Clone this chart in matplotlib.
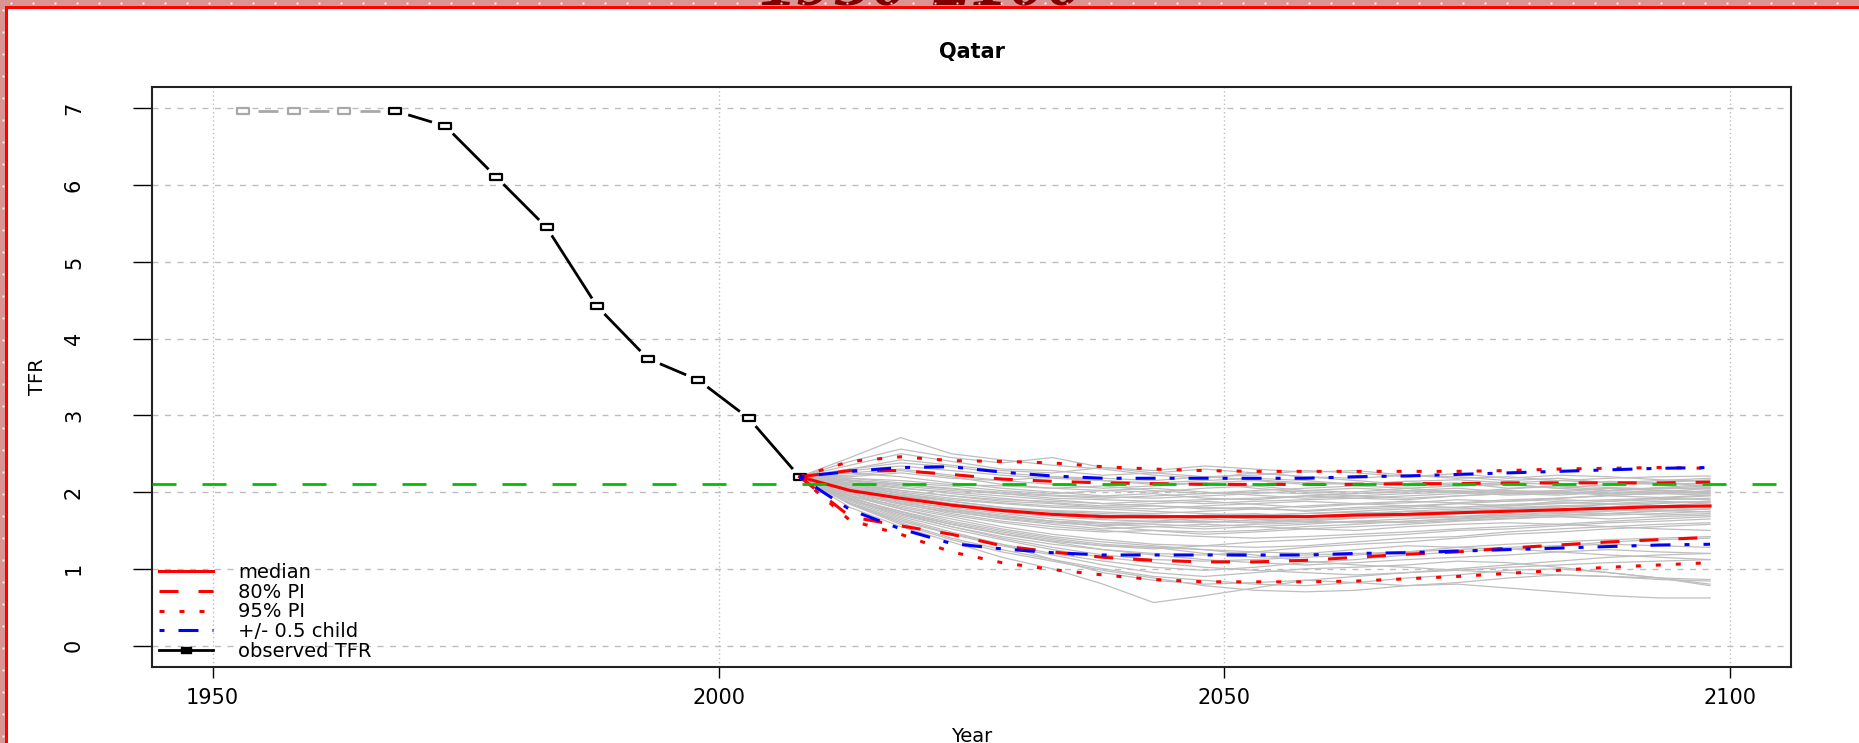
import numpy as np
import matplotlib.pyplot as plt
from matplotlib.lines import Line2D
from matplotlib.patches import Rectangle
from matplotlib.path import Path

plt.rcParams['font.family'] = ['DejaVu Sans']
plt.rcParams['lines.scale_dashes'] = False

# Observed TFR, 5-year period midpoints (first three are imputed -> gray)
obs_years = [1953, 1958, 1963, 1968, 1973, 1978, 1983, 1988, 1993, 1998, 2003, 2008]
obs_tfr = [6.97, 6.97, 6.97, 6.97, 6.77, 6.11, 5.45, 4.42, 3.74, 3.46, 2.96, 2.20]
n_gray = 3

# Projection years
proj_years = [2008, 2013, 2018, 2023, 2028, 2033, 2038, 2043, 2048, 2053,
              2058, 2063, 2068, 2073, 2078, 2083, 2088, 2093, 2098]

median = [2.20, 2.02, 1.92, 1.83, 1.76, 1.71, 1.68, 1.68, 1.68, 1.68,
          1.68, 1.70, 1.71, 1.73, 1.75, 1.77, 1.79, 1.81, 1.82]
pi80_up = [2.20, 2.28, 2.28, 2.23, 2.17, 2.14, 2.12, 2.11, 2.10, 2.10,
           2.10, 2.10, 2.11, 2.11, 2.12, 2.12, 2.12, 2.12, 2.13]
pi80_lo = [2.20, 1.68, 1.56, 1.45, 1.30, 1.22, 1.15, 1.11, 1.09, 1.09,
           1.11, 1.15, 1.19, 1.22, 1.27, 1.31, 1.35, 1.38, 1.41]
pi95_up = [2.20, 2.40, 2.46, 2.41, 2.40, 2.38, 2.33, 2.30, 2.28, 2.27,
           2.27, 2.27, 2.27, 2.27, 2.28, 2.30, 2.31, 2.32, 2.31]
pi95_lo = [2.20, 1.63, 1.45, 1.22, 1.08, 0.99, 0.92, 0.86, 0.83, 0.83,
           0.83, 0.84, 0.87, 0.90, 0.94, 0.98, 1.02, 1.05, 1.08]
half_up = [2.20, 2.27, 2.32, 2.33, 2.26, 2.21, 2.18, 2.18, 2.18, 2.18,
           2.18, 2.20, 2.21, 2.23, 2.25, 2.27, 2.29, 2.31, 2.32]
half_lo = [2.20, 1.77, 1.52, 1.33, 1.26, 1.21, 1.18, 1.18, 1.18, 1.18,
           1.18, 1.20, 1.21, 1.23, 1.25, 1.27, 1.29, 1.31, 1.32]
replacement = 2.1

# Sampled trajectories (gray)
trajectories = [
    [2.2, 2.45, 2.71, 2.50, 2.42, 2.35, 2.30, 2.22, 2.18, 2.25, 2.20, 2.15, 2.10, 2.12, 2.05, 2.08, 2.02, 2.00, 1.98],
    [2.2, 2.40, 2.56, 2.45, 2.38, 2.45, 2.32, 2.28, 2.34, 2.30, 2.26, 2.28, 2.22, 2.18, 2.20, 2.15, 2.18, 2.20, 2.21],
    [2.2, 2.30, 2.38, 2.33, 2.25, 2.20, 2.18, 2.15, 2.20, 2.16, 2.12, 2.10, 2.14, 2.08, 2.10, 2.05, 2.10, 2.12, 2.08],
    [2.2, 2.25, 2.20, 2.12, 2.05, 2.00, 1.95, 1.98, 1.92, 1.90, 1.95, 1.98, 2.00, 2.02, 1.98, 2.00, 2.05, 2.02, 2.00],
    [2.2, 2.10, 2.02, 1.95, 1.88, 1.85, 1.80, 1.82, 1.78, 1.80, 1.75, 1.78, 1.80, 1.85, 1.82, 1.88, 1.90, 1.92, 1.95],
    [2.2, 2.05, 1.95, 1.85, 1.78, 1.70, 1.68, 1.65, 1.70, 1.72, 1.68, 1.70, 1.75, 1.78, 1.80, 1.82, 1.80, 1.85, 1.88],
    [2.2, 1.95, 1.82, 1.70, 1.60, 1.52, 1.48, 1.50, 1.45, 1.48, 1.52, 1.55, 1.58, 1.62, 1.65, 1.68, 1.70, 1.72, 1.75],
    [2.2, 1.90, 1.70, 1.55, 1.42, 1.32, 1.25, 1.20, 1.18, 1.22, 1.28, 1.32, 1.35, 1.40, 1.45, 1.48, 1.52, 1.55, 1.58],
    [2.2, 1.85, 1.62, 1.45, 1.30, 1.18, 1.05, 0.95, 0.90, 0.95, 1.00, 1.02, 1.05, 1.10, 1.08, 1.02, 0.95, 0.88, 0.80],
    [2.2, 1.80, 1.55, 1.35, 1.15, 1.00, 0.80, 0.56, 0.65, 0.75, 0.85, 0.82, 0.78, 0.80, 0.75, 0.70, 0.65, 0.62, 0.62],
    [2.2, 1.88, 1.66, 1.48, 1.32, 1.12, 0.95, 0.85, 0.80, 0.82, 0.85, 0.90, 0.95, 0.98, 1.02, 1.05, 1.08, 1.10, 1.12],
    [2.2, 2.15, 2.10, 2.05, 1.98, 1.92, 1.90, 1.88, 1.85, 1.88, 1.90, 1.92, 1.90, 1.95, 1.98, 1.96, 2.00, 1.98, 2.02],
    [2.2, 2.12, 2.05, 2.00, 1.95, 1.90, 1.85, 1.82, 1.80, 1.78, 1.82, 1.85, 1.88, 1.86, 1.90, 1.92, 1.95, 1.93, 1.96],
    [2.2, 2.00, 1.88, 1.80, 1.72, 1.65, 1.60, 1.58, 1.55, 1.58, 1.60, 1.62, 1.65, 1.68, 1.70, 1.72, 1.75, 1.78, 1.80],
    [2.2, 2.08, 1.98, 1.90, 1.85, 1.80, 1.78, 1.75, 1.72, 1.70, 1.72, 1.75, 1.78, 1.80, 1.82, 1.85, 1.88, 1.90, 1.92],
    [2.2, 2.18, 2.15, 2.10, 2.08, 2.05, 2.02, 2.00, 2.05, 2.08, 2.02, 2.00, 2.05, 2.08, 2.10, 2.05, 2.02, 2.06, 2.10],
    [2.2, 1.98, 1.80, 1.68, 1.55, 1.45, 1.38, 1.32, 1.30, 1.28, 1.30, 1.35, 1.40, 1.42, 1.48, 1.52, 1.55, 1.58, 1.60],
    [2.2, 2.02, 1.90, 1.78, 1.68, 1.62, 1.55, 1.50, 1.48, 1.50, 1.55, 1.58, 1.62, 1.65, 1.68, 1.70, 1.72, 1.75, 1.78],
    [2.2, 1.92, 1.75, 1.60, 1.48, 1.38, 1.30, 1.28, 1.25, 1.22, 1.20, 1.25, 1.30, 1.28, 1.32, 1.35, 1.38, 1.40, 1.42],
    [2.2, 2.20, 2.25, 2.18, 2.15, 2.20, 2.15, 2.10, 2.12, 2.15, 2.10, 2.12, 2.08, 2.10, 2.12, 2.15, 2.12, 2.10, 2.12],
    [2.2, 1.85, 1.60, 1.40, 1.25, 1.12, 1.00, 0.90, 0.85, 0.80, 0.78, 0.82, 0.88, 0.92, 0.98, 1.00, 0.95, 0.88, 0.78],
    [2.2, 2.05, 1.92, 1.82, 1.75, 1.70, 1.65, 1.68, 1.65, 1.62, 1.65, 1.68, 1.70, 1.72, 1.75, 1.74, 1.76, 1.78, 1.82],
    [2.2, 2.10, 2.00, 1.92, 1.86, 1.82, 1.80, 1.78, 1.82, 1.85, 1.88, 1.85, 1.82, 1.85, 1.88, 1.90, 1.88, 1.92, 1.90],
    [2.2, 1.95, 1.78, 1.62, 1.50, 1.40, 1.32, 1.28, 1.20, 1.15, 1.18, 1.20, 1.22, 1.25, 1.28, 1.30, 1.32, 1.30, 1.28],
    [2.2, 2.25, 2.30, 2.22, 2.15, 2.10, 2.05, 2.08, 2.12, 2.05, 2.00, 1.98, 2.02, 2.05, 2.00, 1.98, 2.02, 2.05, 2.08],
    [2.2, 2.00, 1.85, 1.72, 1.62, 1.55, 1.50, 1.45, 1.42, 1.40, 1.42, 1.45, 1.48, 1.52, 1.55, 1.58, 1.62, 1.65, 1.68],
    [2.2, 2.08, 1.95, 1.85, 1.78, 1.75, 1.72, 1.70, 1.68, 1.65, 1.62, 1.60, 1.62, 1.65, 1.68, 1.70, 1.72, 1.70, 1.72],
    [2.2, 1.90, 1.68, 1.52, 1.38, 1.25, 1.15, 1.08, 1.02, 0.98, 0.95, 0.92, 0.95, 1.00, 1.05, 1.10, 1.15, 1.18, 1.20],
    [2.2, 2.15, 2.08, 2.02, 1.98, 1.95, 1.92, 1.95, 1.98, 2.00, 1.98, 1.95, 1.92, 1.95, 1.98, 2.00, 1.98, 2.00, 2.05],
    [2.2, 2.02, 1.88, 1.75, 1.65, 1.58, 1.52, 1.55, 1.58, 1.55, 1.52, 1.50, 1.55, 1.58, 1.60, 1.58, 1.55, 1.52, 1.50],
    [2.2, 2.30, 2.42, 2.35, 2.28, 2.25, 2.32, 2.25, 2.20, 2.22, 2.28, 2.25, 2.20, 2.24, 2.18, 2.22, 2.20, 2.16, 2.14],
    [2.2, 1.96, 1.78, 1.65, 1.52, 1.42, 1.35, 1.30, 1.25, 1.18, 1.10, 1.05, 1.02, 0.98, 0.95, 0.92, 0.90, 0.88, 0.86],
    [2.2, 2.12, 2.02, 1.95, 1.90, 1.88, 1.85, 1.88, 1.90, 1.92, 1.95, 1.92, 1.95, 1.98, 2.00, 2.02, 2.05, 2.02, 2.00],
    [2.2, 2.05, 1.90, 1.78, 1.70, 1.62, 1.58, 1.55, 1.52, 1.55, 1.58, 1.62, 1.60, 1.63, 1.66, 1.68, 1.65, 1.68, 1.70],
    [2.2, 1.94, 1.72, 1.55, 1.40, 1.28, 1.18, 1.12, 1.10, 1.12, 1.15, 1.18, 1.22, 1.28, 1.25, 1.30, 1.35, 1.38, 1.40],
    [2.2, 2.18, 2.12, 2.08, 2.02, 1.98, 2.02, 2.05, 2.00, 1.96, 1.92, 1.95, 1.98, 2.00, 2.02, 2.00, 1.96, 1.98, 2.00],
    [2.2, 2.35, 2.50, 2.40, 2.30, 2.28, 2.22, 2.25, 2.30, 2.25, 2.20, 2.18, 2.22, 2.20, 2.15, 2.18, 2.12, 2.15, 2.18],
    [2.2, 2.22, 2.28, 2.20, 2.10, 2.05, 2.08, 2.02, 1.98, 2.02, 2.05, 2.08, 2.05, 2.00, 2.04, 2.08, 2.06, 2.04, 2.06],
    [2.2, 2.06, 1.96, 1.88, 1.80, 1.76, 1.74, 1.72, 1.75, 1.78, 1.76, 1.80, 1.82, 1.80, 1.84, 1.86, 1.85, 1.88, 1.86],
    [2.2, 1.98, 1.84, 1.74, 1.66, 1.60, 1.56, 1.60, 1.62, 1.60, 1.64, 1.66, 1.70, 1.68, 1.72, 1.76, 1.78, 1.76, 1.74],
    [2.2, 1.90, 1.72, 1.58, 1.46, 1.36, 1.30, 1.26, 1.30, 1.35, 1.38, 1.42, 1.45, 1.50, 1.52, 1.56, 1.60, 1.62, 1.65],
    [2.2, 1.86, 1.64, 1.46, 1.32, 1.20, 1.10, 1.02, 0.98, 1.02, 1.08, 1.12, 1.18, 1.22, 1.26, 1.22, 1.18, 1.15, 1.12],
    [2.2, 2.14, 2.06, 1.98, 1.92, 1.86, 1.82, 1.85, 1.88, 1.84, 1.80, 1.84, 1.86, 1.90, 1.88, 1.92, 1.96, 1.98, 1.96],
    [2.2, 2.28, 2.34, 2.28, 2.22, 2.18, 2.15, 2.12, 2.15, 2.18, 2.15, 2.10, 2.14, 2.16, 2.12, 2.10, 2.14, 2.12, 2.16],
    [2.2, 1.92, 1.74, 1.58, 1.45, 1.35, 1.25, 1.18, 1.12, 1.08, 1.05, 1.08, 1.12, 1.15, 1.18, 1.22, 1.25, 1.22, 1.20],
    [2.2, 2.00, 1.86, 1.76, 1.68, 1.62, 1.60, 1.62, 1.66, 1.70, 1.72, 1.74, 1.72, 1.76, 1.78, 1.80, 1.84, 1.86, 1.88],
    [2.2, 2.10, 1.98, 1.88, 1.80, 1.74, 1.70, 1.66, 1.62, 1.60, 1.62, 1.66, 1.68, 1.66, 1.70, 1.74, 1.72, 1.76, 1.78],
    [2.2, 1.84, 1.58, 1.38, 1.22, 1.10, 0.98, 0.88, 0.78, 0.72, 0.70, 0.72, 0.78, 0.82, 0.88, 0.92, 0.90, 0.86, 0.84],
    [2.2, 2.16, 2.10, 2.04, 2.00, 1.96, 1.94, 1.92, 1.95, 1.98, 2.02, 2.05, 2.02, 2.00, 1.96, 1.98, 2.02, 2.05, 2.04],
    [2.2, 2.04, 1.92, 1.82, 1.74, 1.68, 1.64, 1.62, 1.60, 1.64, 1.68, 1.72, 1.75, 1.74, 1.78, 1.82, 1.84, 1.82, 1.86],
]

x_ticks = [1950, 2000, 2050, 2100]
y_ticks = [0, 1, 2, 3, 4, 5, 6, 7]

W, H = 1859, 743
PX = 0.72  # points per pixel at dpi 100

fig = plt.figure(figsize=(W / 100, H / 100), dpi=100)
ax = fig.add_axes([152 / W, 1 - 667 / H, (1791 - 152) / W, (667 - 87) / H])
ax.set_xlim(1944, 2106)
ax.set_ylim(-0.28, 7.28)

# grid (R grid(): dotted, stretched horizontally in the picture)
for xt in x_ticks:
    ax.axvline(xt, color='#BDBDBD', lw=1.0, dashes=(1.0, 2.0), zorder=1)
for yt in y_ticks:
    ax.axhline(yt, color='#BDBDBD', lw=1.0, dashes=(4.3, 4.7), zorder=1)

for traj in trajectories:
    ax.plot(proj_years, traj, color='#BEBEBE', lw=0.9, zorder=2)

# observed, type "b" (line segments with gaps around the points)
sq = Path([(-1, -0.6), (1, -0.6), (1, 0.6), (-1, 0.6), (-1, -0.6)], closed=True)


def type_b(xs, ys, color, gap=8.5, stretch=1.8):
    pts = ax.transData.transform(np.column_stack([xs, ys]))
    inv = ax.transData.inverted()
    for p0, p1 in zip(pts[:-1], pts[1:]):
        dx, dy = (p1[0] - p0[0]) / stretch, p1[1] - p0[1]
        d = np.hypot(dx, dy)
        if d <= 2 * gap:
            continue
        f = gap / d
        seg = inv.transform([p0 + (p1 - p0) * f, p1 - (p1 - p0) * f])
        ax.plot(seg[:, 0], seg[:, 1], color=color, lw=2.0, solid_capstyle='butt', zorder=4)


type_b(obs_years[:n_gray + 1], obs_tfr[:n_gray + 1], '#A8A8A8')
type_b(obs_years[n_gray:], obs_tfr[n_gray:], 'black')
ax.plot(obs_years[:n_gray], obs_tfr[:n_gray], ls='none', marker=sq, ms=8, mew=1.6,
        mfc='white', mec='#A8A8A8', zorder=5)
ax.plot(obs_years[n_gray:], obs_tfr[n_gray:], ls='none', marker=sq, ms=8, mew=1.6,
        mfc='white', mec='black', zorder=5)

lw = 2.2
ax.plot(proj_years, median, color='red', lw=lw, zorder=6)
d80 = (19 * PX, 20 * PX)
d95 = (5 * PX, 15 * PX)
dhalf = (5 * PX, 14 * PX, 20 * PX, 14 * PX)
ax.plot(proj_years, pi80_up, color='red', lw=lw, dashes=d80, zorder=6)
ax.plot(proj_years, pi80_lo, color='red', lw=lw, dashes=d80, zorder=6)
ax.plot(proj_years, pi95_up, color='red', lw=lw, dashes=d95, zorder=6)
ax.plot(proj_years, pi95_lo, color='red', lw=lw, dashes=d95, zorder=6)
ax.plot(proj_years, half_up, color='blue', lw=lw, dashes=dhalf, zorder=7)
ax.plot(proj_years, half_lo, color='blue', lw=lw, dashes=dhalf, zorder=7)
ax.axhline(replacement, color='#00C000', lw=2.0, dashes=(24 * PX, 26 * PX), zorder=8)

# axes styling
for s in ax.spines.values():
    s.set_linewidth(1.5)
    s.set_color('#222222')
ax.set_xticks(x_ticks)
ax.set_yticks(y_ticks)
ax.tick_params(axis='x', length=8, width=1.0, pad=7, labelsize=15)
ax.tick_params(axis='y', length=14, width=1.0, pad=35, labelsize=15, labelrotation=90)
for lab in ax.get_yticklabels():
    lab.set_va('center')

ax.set_title('Qatar', fontsize=15, fontweight='bold', pad=21)
ax.set_xlabel('Year', fontsize=14)
ax.xaxis.set_label_coords(0.5, -0.129)
ax.xaxis.label.set_va('baseline')
ax.set_ylabel('TFR', fontsize=14)
ax.yaxis.set_label_coords(-0.0696, 0.5)
ax.yaxis.label.set_va('center')

handles = [
    Line2D([], [], color='red', lw=lw),
    Line2D([], [], color='red', lw=lw, dashes=d80),
    Line2D([], [], color='red', lw=lw, dashes=d95),
    Line2D([], [], color='blue', lw=lw, dashes=dhalf),
    Line2D([], [], color='black', lw=2.0, marker=sq, ms=7, mfc='black', mec='black'),
]
labels = ['median', '80% PI', '95% PI', '+/- 0.5 child', 'observed TFR']
ax.legend(handles, labels, loc='upper left', bbox_to_anchor=(0.004, 0.179),
          frameon=False, fontsize=14, borderpad=0, borderaxespad=0,
          handlelength=2.79, handletextpad=1.3, labelspacing=0.03)

# page decoration (document border)
pink = '#D99594'
fig.add_artist(Rectangle((0, 1 - 6 / H), 1, 6 / H, transform=fig.transFigure,
                         facecolor=pink, edgecolor='none', zorder=0))
fig.add_artist(Rectangle((0, 0), 5 / W, 1, transform=fig.transFigure,
                         facecolor=pink, edgecolor='none', zorder=0))
fig.text(922 / W, 1 - 6 / H, '1950-2100', ha='center', va='baseline',
         color='#7F0000', fontsize=54, family='Liberation Serif',
         fontweight='bold', style='italic', zorder=1)
dots_x = np.arange(11, W, 22)
dots_y = np.arange(10, H, 22)
fig.add_artist(Line2D(dots_x / W, np.full(len(dots_x), 1 - 2.5 / H), transform=fig.transFigure,
                      ls='none', marker='s', ms=1.3, mfc='white', mec='none', zorder=2))
fig.add_artist(Line2D(np.full(len(dots_y), 2.5 / W), 1 - dots_y / H, transform=fig.transFigure,
                      ls='none', marker='s', ms=1.3, mfc='white', mec='none', zorder=2))
fig.add_artist(Rectangle((5 / W, 1 - 8.5 / H), 1, 2.5 / H, transform=fig.transFigure,
                         facecolor='red', edgecolor='none', zorder=3))
fig.add_artist(Rectangle((5 / W, 0), 2.5 / W, 1 - 6 / H, transform=fig.transFigure,
                         facecolor='red', edgecolor='none', zorder=3))

fig.savefig('out.png', dpi=100)
